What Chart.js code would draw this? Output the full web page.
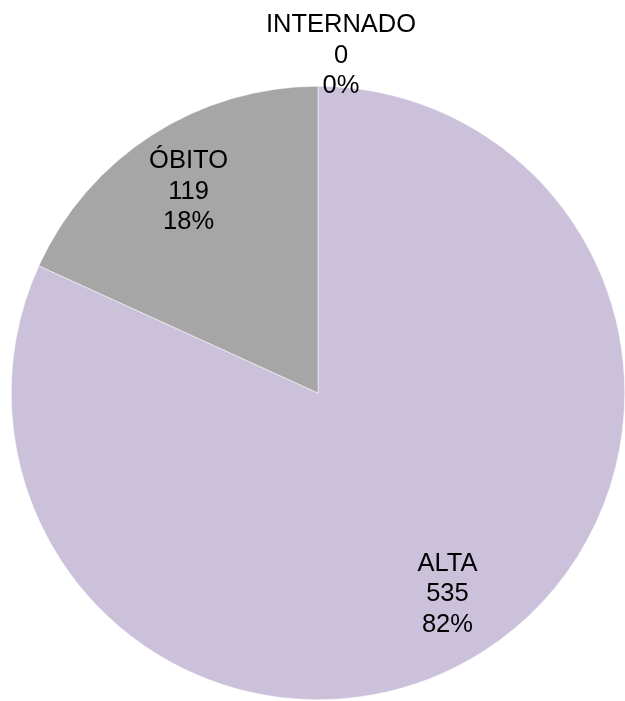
<!DOCTYPE html>
<html>
<head>
<meta charset="utf-8">
<script src="https://cdn.jsdelivr.net/npm/chart.js@4"></script>
<style>
  body { margin: 0; background: #fff; }
  #wrap { width: 625px; height: 701px; }
</style>
</head>
<body>
<div id="wrap"><canvas id="pieChart" width="625" height="701"></canvas></div>
<script>
// data
const labels = ["ALTA", "ÓBITO", "INTERNADO"];
const values = [535, 119, 0];
const sliceColors = ["#CBC1DB", "#A6A6A6", "#8064A2"];

const total = values.reduce((s, v) => s + v, 0);

// draws "NAME / value / pct" inside the slice, or just above the pie when empty
const sliceLabels = {
  id: "sliceLabels",
  afterDatasetsDraw(chart) {
    const ctx = chart.ctx;
    const arcs = chart.getDatasetMeta(0).data;
    ctx.save();
    ctx.font = "25.5px 'Liberation Sans', Arial, sans-serif";
    ctx.fillStyle = "#000";
    ctx.textAlign = "center";
    ctx.textBaseline = "middle";
    arcs.forEach((arc, i) => {
      const r = arc.outerRadius;
      const mid = (arc.startAngle + arc.endAngle) / 2;
      let x, y;
      if (values[i] > 0) {
        x = arc.x + Math.cos(mid) * r * 0.78;
        y = arc.y + Math.sin(mid) * r * 0.78;
      } else {
        x = arc.x + Math.cos(mid) * r * 1.1 + 23;
        y = arc.y + Math.sin(mid) * r * 1.1;
      }
      const pct = Math.round(values[i] / total * 100) + "%";
      const lines = [labels[i], String(values[i]), pct];
      lines.forEach((t, k) => ctx.fillText(t, x, y + (k - 1) * 30.5));
    });
    ctx.restore();
  }
};

new Chart(document.getElementById("pieChart"), {
  type: "pie",
  data: {
    labels: labels,
    datasets: [{
      data: values,
      backgroundColor: sliceColors,
      borderColor: "#ffffff",
      borderWidth: 0.5
    }]
  },
  options: {
    responsive: false,
    animation: false,
    layout: { padding: { top: 85, bottom: 0, left: 11, right: 0 } },
    plugins: {
      legend: { display: false },
      tooltip: { enabled: false }
    }
  },
  plugins: [sliceLabels]
});
</script>
</body>
</html>
